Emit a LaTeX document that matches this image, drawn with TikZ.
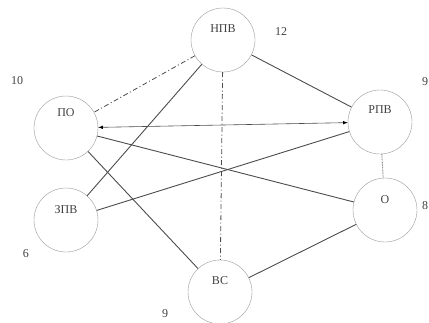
\documentclass[tikz,border=0pt]{standalone}
\usepackage{amsmath,amsthm,amssymb, fontspec}
\setmainfont{Liberation Serif}
\usepackage{tikz}
\usetikzlibrary{automata,positioning}

\begin{document}
\begin{tikzpicture}[x=1pt,y=1pt,node distance=2cm,on grid,
                    every state/.style={draw=gray!80,thin,minimum size=64pt,inner sep=0pt},
                    link/.style={draw=black!70,line width=0.9pt},
                    dashdot/.style={line width=0.8pt,dash pattern=on 5pt off 2.5pt on 1pt off 2.5pt},
                    font=\fontsize{12}{14}\selectfont,text=black!75] 
        \useasboundingbox (0,0) rectangle (429,-322);
               \node[state, label={[yshift=11pt]center:НПВ}] (npv) at (223,-40) {}; 
               \node[state, label={[yshift=15pt]center:ПО}] (po) [below left=88pt and 157pt of npv] {}; 
               \node[state, label={[yshift=12pt]center:РПВ}] (rpv) [below right=82pt and 157pt of npv] {};
               \node[state, label={[yshift=10pt]center:ЗПВ}] (zpv) [below=92pt of po] {};
               \node[state, label={[yshift=10pt]center:О}] (o) [below right=88pt and 5pt of rpv] {};
               \node[state, label={[yshift=11pt]center:ВС}] (vs) [below=252pt of npv, xshift=-3pt] {};
               % weights
               \node (w_po) at (17,-81) {10};
               \node (w_npv) at (281,-32) {12};
               \node (w_rpv) at (425,-82) {9};
               \node (w_zpv) at (26,-254) {6};
               \node (w_o) at (425,-206) {8};
               \node (w_vs) at (165,-314) {9};
		\path[link]
			(npv)		edge (rpv)
					edge (zpv)
					edge [dashdot] (po)
					edge [dashdot] (vs)
			(po)		edge (vs)
					edge (o)
					edge [line width=0.6pt, <->, >=latex] (rpv)
			(zpv)		edge (rpv)
			(rpv)		edge [draw=black!55, line width=0.9pt, dash pattern=on 0.8pt off 0.8pt] (o)
			(vs)		edge (o);
            \end{tikzpicture}
\end{document}
